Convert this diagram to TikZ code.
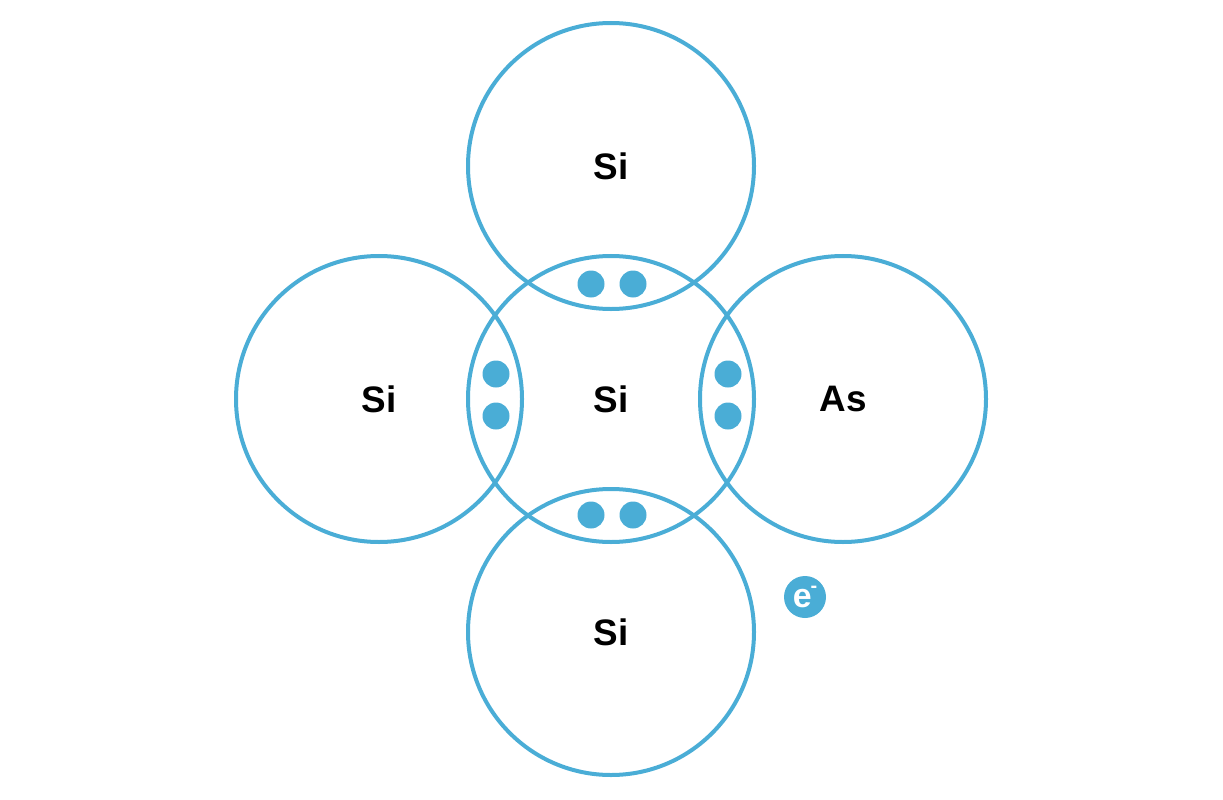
\documentclass[tikz,border=0pt]{standalone}
\usepackage{fontspec}
\setmainfont{Liberation Sans}
\usepackage{xcolor}
\definecolor{bondblue}{HTML}{4AADD6}

\begin{document}
\begin{tikzpicture}[x=1bp, y=-1bp,
  atom/.style={circle, draw=bondblue, line width=4bp, minimum size=286bp, inner sep=0pt,
    font=\fontsize{37}{40}\selectfont\bfseries},
  pair/.style={circle, fill=bondblue, minimum size=27bp, inner sep=0pt},
  freeel/.style={circle, fill=bondblue, minimum size=42bp, inner sep=0pt, text=white,
    font=\fontsize{34}{34}\selectfont\bfseries}]
\useasboundingbox (0,0) rectangle (1223,800);
% atoms
\node[atom] (top) at (611,166) {Si};
\node[atom] (left) at (379,399) {Si};
\node[atom] (right) at (843,399) {As};
\node[atom] (bottom) at (611,632) {Si};
\node[atom] (mid) at (611,399) {Si};
% shared electron pairs
\node[pair] (t1) at (591,284) {};
\node[pair] (t2) at (633,284) {};
\node[pair] (l1) at (496,374) {};
\node[pair] (l2) at (496,416) {};
\node[pair] (r1) at (728,374) {};
\node[pair] (r2) at (728,416) {};
\node[pair] (b1) at (591,515) {};
\node[pair] (b2) at (633,515) {};
% free electron
\node[freeel] (el) at (805,597) {e\kern-1bp\raisebox{0.42em}{\fontsize{20}{20}\selectfont -}};
\end{tikzpicture}
\end{document}
